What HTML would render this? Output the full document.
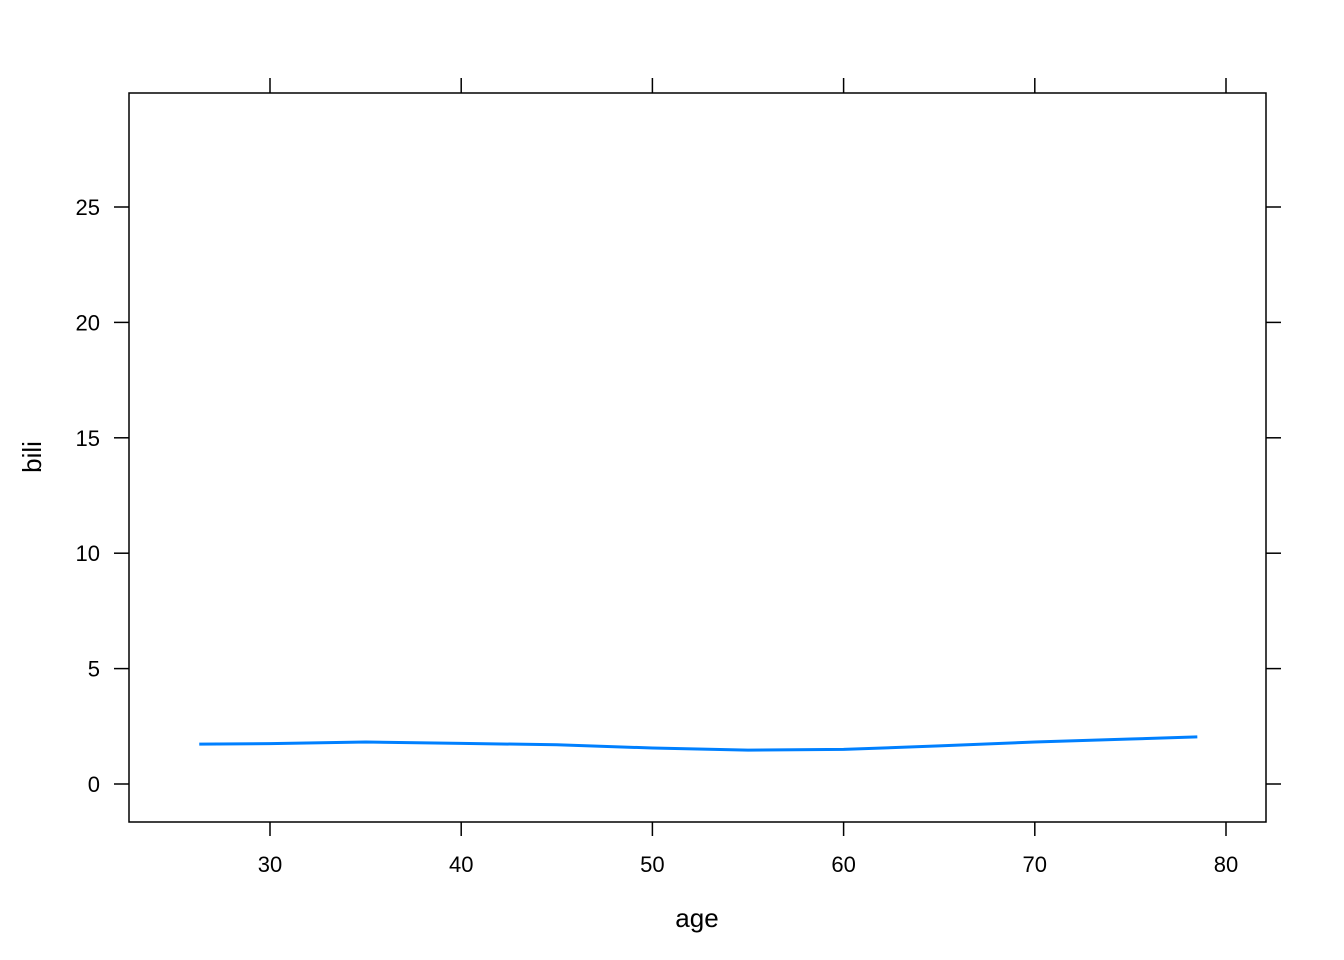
<!DOCTYPE html>
<html><head><meta charset="utf-8"><style>
body{margin:0;background:#fff;}
svg{display:block;font-family:"Liberation Sans",Arial,sans-serif;}
</style></head><body>
<svg id="chart" width="1344" height="960" viewBox="0 0 1344 960">
<rect x="129" y="93" width="1137" height="729" fill="none" stroke="#000" stroke-width="1.5"/>
<g id="axes"></g>
<text x="697" y="927" font-size="26" text-anchor="middle">age</text>
<text transform="translate(41,457) rotate(-90)" font-size="26" text-anchor="middle">bili</text>
</svg>
<script>
const ages=[26.3,30,35,40,45,50,55,60,65,70,75,78.5];
const bili=[1.73,1.75,1.82,1.76,1.7,1.56,1.47,1.5,1.65,1.82,1.95,2.04];
const xTicks=[30,40,50,60,70,80];
const yTicks=[0,5,10,15,20,25];
const NS="http://www.w3.org/2000/svg";
const X=v=>270+(v-30)*(1226-270)/50;
const Y=v=>784-v*(784-207)/25;
const g=document.getElementById('axes');
function mk(t,a){const e=document.createElementNS(NS,t);for(const k in a)e.setAttribute(k,a[k]);g.appendChild(e);return e;}
xTicks.forEach(v=>{
 const b=mk('line',{x1:X(v),x2:X(v),y1:822,y2:836,stroke:'#000','stroke-width':1.5});
 
 
 const t=mk('line',{x1:X(v),x2:X(v),y1:93,y2:78,stroke:'#000','stroke-width':1.5});
 
 
 const l=mk('text',{x:X(v),y:872,'font-size':22,'text-anchor':'middle'});l.textContent=v;
 
 
});
yTicks.forEach(v=>{
 const b=mk('line',{x1:114,x2:129,y1:Y(v),y2:Y(v),stroke:'#000','stroke-width':1.5});
 
 
 const r=mk('line',{x1:1266,x2:1281,y1:Y(v),y2:Y(v),stroke:'#000','stroke-width':1.5});
 
 
 const l=mk('text',{x:100,y:Y(v)+8,'font-size':22,'text-anchor':'end'});l.textContent=v;
 
 
});
const p=mk('polyline',{points:ages.map((a,i)=>X(a)+','+Y(bili[i])).join(' '),fill:'none',stroke:'#0080ff','stroke-width':3,'stroke-linejoin':'round'});


</script>
</body></html>
